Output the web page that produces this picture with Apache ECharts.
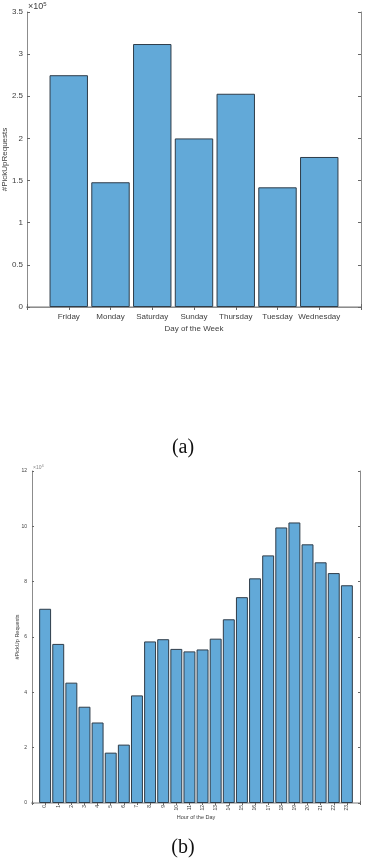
<!DOCTYPE html>
<html>
<head>
<meta charset="utf-8">
<script src="https://cdn.jsdelivr.net/npm/echarts@6/dist/echarts.min.js"></script>
<style>
  html, body { margin: 0; padding: 0; background: #fff; }
  #chart { width: 366px; height: 860px; }
</style>
</head>
<body>
<div id="chart"></div>
<script>
// (a) pickups by weekday, in units of 1e5
const days = ['Friday', 'Monday', 'Saturday', 'Sunday', 'Thursday', 'Tuesday', 'Wednesday']
const dayPickups = [2.75, 1.48, 3.12, 2.0, 2.53, 1.42, 1.78]
const dayTicks = [0, 0.5, 1, 1.5, 2, 2.5, 3, 3.5]

// (b) pickups by hour, in units of 1e4
const hours = ['0', '1', '2', '3', '4', '5', '6', '7', '8', '9', '10', '11',
  '12', '13', '14', '15', '16', '17', '18', '19', '20', '21', '22', '23']
const hourPickups = [7.02, 5.75, 4.35, 3.48, 2.91, 1.82, 2.11, 3.89, 5.84, 5.92, 5.57, 5.48,
  5.55, 5.94, 6.64, 7.44, 8.12, 8.95, 9.96, 10.14, 9.35, 8.7, 8.31, 7.87]
const hourTicks = [0, 2, 4, 6, 8, 10, 12]

const font = "'Liberation Sans', Arial, sans-serif"
const txt = '#404040'
const barColor = '#62a9d8'
const barEdge = '#2f3d4a'

// one empty slot each side, like the matlab axis limits
const dayCats = [' '].concat(days).concat(['  '])
const hourCats = [' '].concat(hours).concat(['  '])

var chart = echarts.init(document.getElementById('chart'))

function tickAxis(opts) {
  return Object.assign({
    axisLine: { show: true, lineStyle: { color: '#8c8c8c', width: 1 } },
    axisTick: { show: true, inside: true, length: 3, lineStyle: { color: '#666' } },
    splitLine: { show: false },
    nameMoveOverlap: false
  }, opts)
}

var option = {
  animation: false,
  textStyle: { fontFamily: font },
  grid: [
    { left: 27, top: 12, width: 334, height: 295, containLabel: false, outerBoundsMode: 'none' },
    { left: 32, top: 471, width: 328, height: 332, containLabel: false, outerBoundsMode: 'none' }
  ],
  xAxis: [
    tickAxis({
      type: 'category', gridIndex: 0, data: dayCats, boundaryGap: false,
      axisLine: { show: true, lineStyle: { color: '#bdbdbd', width: 2 } },
      axisLabel: { interval: 0, fontSize: 8, color: txt, margin: 6, fontFamily: font },
      name: 'Day of the Week', nameLocation: 'middle', nameGap: 18,
      nameTextStyle: { fontSize: 8, color: txt, fontFamily: font }
    }),
    tickAxis({
      type: 'category', gridIndex: 0, data: dayCats, boundaryGap: false, position: 'top',
      axisTick: { show: true, inside: true, length: 3, interval: 0, lineStyle: { color: '#666' } },
      axisLabel: { show: false }
    }),
    tickAxis({
      type: 'category', gridIndex: 1, data: hourCats, boundaryGap: false,
      axisTick: { show: true, inside: true, length: 2, interval: 0, lineStyle: { color: '#666' } },
      axisLabel: { interval: 0, fontSize: 5, color: txt, margin: 2, rotate: 90, fontFamily: font },
      name: 'Hour of the Day', nameLocation: 'middle', nameGap: 11,
      nameTextStyle: { fontSize: 5.5, color: txt, fontFamily: font }
    }),
    tickAxis({
      type: 'category', gridIndex: 1, data: hourCats, boundaryGap: false, position: 'top',
      axisLine: { show: true, lineStyle: { color: '#bdbdbd', width: 2 } },
      axisTick: { show: true, inside: true, length: 2, interval: 0, lineStyle: { color: '#666' } },
      axisLabel: { show: false }
    })
  ],
  yAxis: [
    tickAxis({
      type: 'value', gridIndex: 0, min: dayTicks[0], max: dayTicks[dayTicks.length - 1], interval: 0.5,
      axisLabel: { fontSize: 8, color: txt, margin: 4, fontFamily: font },
      name: '#PickUpRequests', nameLocation: 'middle', nameGap: 18,
      nameTextStyle: { fontSize: 8, color: txt, fontFamily: font }
    }),
    tickAxis({
      type: 'value', gridIndex: 0, position: 'right', min: 0, max: 3.5, interval: 0.5,
      axisLabel: { show: false }
    }),
    tickAxis({
      type: 'value', gridIndex: 1, min: hourTicks[0], max: hourTicks[hourTicks.length - 1], interval: 2,
      axisTick: { show: true, inside: true, length: 2, lineStyle: { color: '#666' } },
      axisLabel: { fontSize: 5, color: txt, margin: 5, fontFamily: font },
      name: '#PickUp Requests', nameLocation: 'middle', nameGap: 12,
      nameTextStyle: { fontSize: 5.5, color: txt, fontFamily: font }
    }),
    tickAxis({
      type: 'value', gridIndex: 1, position: 'right', min: 0, max: 12, interval: 2,
      axisTick: { show: true, inside: true, length: 2, lineStyle: { color: '#666' } },
      axisLabel: { show: false }
    })
  ],
  series: [
    {
      type: 'bar', xAxisIndex: 0, yAxisIndex: 0, barWidth: '92%',
      data: days.map((d, i) => [d, dayPickups[i]]),
      itemStyle: { color: barColor, borderColor: barEdge, borderWidth: 1 }
    },
    {
      type: 'bar', xAxisIndex: 2, yAxisIndex: 2, barWidth: '91%',
      data: hours.map((h, i) => [h, hourPickups[i]]),
      itemStyle: { color: barColor, borderColor: barEdge, borderWidth: 1 }
    }
  ],
  graphic: [
    {
      type: 'text', left: 28, top: 1,
      style: {
        text: '{a|×10}{b|5}',
        rich: {
          a: { fontSize: 9, fill: txt, fontFamily: font },
          b: { fontSize: 6, fill: txt, fontFamily: font, padding: [0, 0, 6, 0] }
        }
      }
    },
    {
      type: 'text', left: 33, top: 464,
      style: {
        text: '{a|×10}{b|4}',
        rich: {
          a: { fontSize: 5, fill: '#888', fontFamily: font },
          b: { fontSize: 4, fill: '#888', fontFamily: font, padding: [0, 0, 4, 0] }
        }
      }
    },
    {
      type: 'text', left: 'center', top: 438,
      style: { text: '(a)', fontSize: 20, fill: '#111', fontFamily: "'Liberation Serif', 'DejaVu Serif', serif" }
    },
    {
      type: 'text', left: 'center', top: 838,
      style: { text: '(b)', fontSize: 20, fill: '#111', fontFamily: "'Liberation Serif', 'DejaVu Serif', serif" }
    }
  ]
}

option && chart.setOption(option)
</script>
</body>
</html>
